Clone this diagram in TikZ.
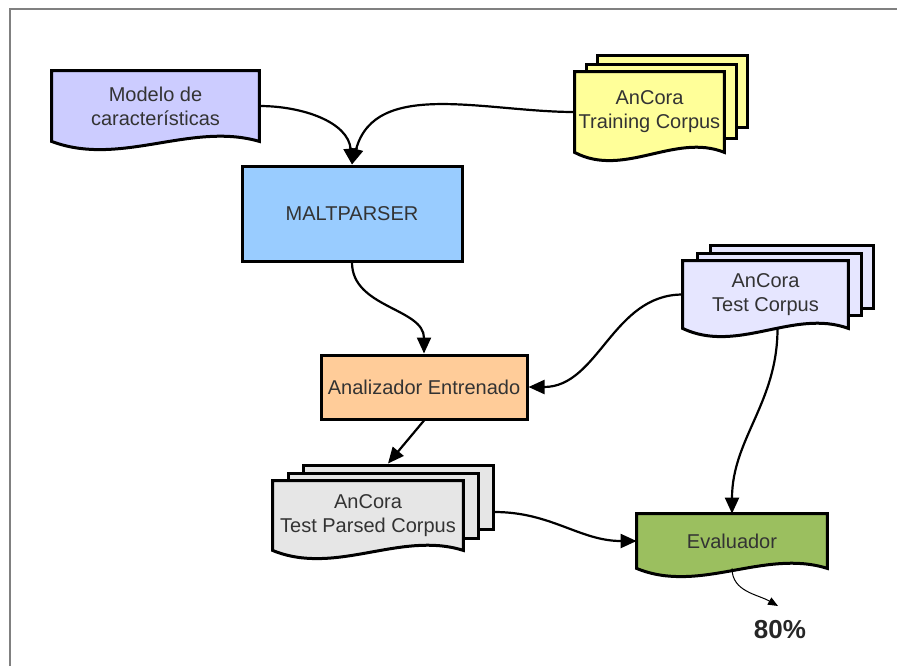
\documentclass[tikz,border=0pt]{standalone}
\usepackage{fontspec}
\setmainfont{Liberation Sans}
\usetikzlibrary{arrows.meta,backgrounds,calc}

\tikzset{
  size/.style 2 args={minimum width=#1*0.5pt, minimum height=#2*0.5pt},
  txt/.style={align=center, inner sep=0pt, text=black!80, font=\fontsize{10}{12}\selectfont},
  box/.style={txt, draw, line width=1.5pt},
  sheet/.style={draw, line width=1.5pt, inner sep=0pt},
  flow/.style={line width=1.1pt, -{Triangle[length=8pt,width=7pt]}},
  thinflow/.style={line width=0.5pt, -{Triangle[length=5pt,width=4pt]}},
}

% document shape with wavy bottom, drawn round a text node
\newcommand{\docshape}[2]{%
  \draw[sheet, fill=#2] (#1.north west) -- (#1.north east) -- (#1.south east)
    .. controls ($(#1.south east)!.33!(#1.south west)+(0,-20)$) and ($(#1.south east)!.67!(#1.south west)+(0,26)$) .. (#1.south west) -- cycle;}

\definecolor{modelfill}{HTML}{CCCCFF}
\definecolor{trainfill}{HTML}{FFFF99}
\definecolor{maltfill}{HTML}{99CCFF}
\definecolor{analizfill}{HTML}{FFCC99}
\definecolor{testfill}{HTML}{E6E6FF}
\definecolor{parsedfill}{HTML}{E6E6E6}
\definecolor{evalfill}{HTML}{9BBF5F}

\begin{document}
\begin{tikzpicture}[x=0.5pt,y=-0.5pt]
\useasboundingbox (0,0) rectangle (897,666);
\draw[gray, line width=1pt] (10,666) -- (10,9) -- (897,9);

% text nodes
\node[txt, size={207}{70}] (model) at (155.5,106) {Modelo de\\caracter\'isticas};
\node[txt, size={149}{80}] (train) at (649.5,112) {AnCora\\Training Corpus};
\node[box, fill=maltfill, size={220}{95}] (malt) at (352,213.5) {MALTPARSER};
\node[box, fill=analizfill, size={206}{64}] (analiz) at (424,387) {Analizador Entrenado};
\node[txt, size={165}{67}] (test) at (765.5,294.5) {AnCora\\Test Corpus};
\node[txt, size={190}{69}] (parsed) at (368,515.5) {AnCora\\Test Parsed Corpus};
\node[txt, size={190}{54}] (eval) at (732,541) {Evaluador};
\node[font=\fontsize{13}{15}\selectfont\bfseries, text=black!85] (pct) at (780,630) {80\%};
\coordinate (pctend) at (778,606);

% sheets behind the texts
\begin{scope}[on background layer]
\node[sheet, fill=trainfill, size={150}{72}] (trainB) at (672,91) {};
\node[sheet, fill=trainfill, size={150}{74}] (trainM) at (661,101) {};
\node[sheet, fill=testfill, size={163}{63}] (testB) at (791.5,276.5) {};
\node[sheet, fill=testfill, size={164}{62}] (testM) at (779,284) {};
\node[sheet, fill=parsedfill, size={190}{64}] (parsedB) at (398,497) {};
\node[sheet, fill=parsedfill, size={190}{65}] (parsedM) at (383,505.5) {};
\docshape{model}{modelfill}
\docshape{train}{trainfill}
\docshape{test}{testfill}
\docshape{parsed}{parsedfill}
\docshape{eval}{evalfill}
\end{scope}

% connectors
\draw[flow] (model.east) to[out=0,in=95] (malt.north);
\draw[flow] (train.west) to[out=180,in=75] (malt.north);
\draw[flow] (malt.south) to[out=-90,in=90] (analiz.north);
\draw[flow] (test.west) to[out=180,in=0] (analiz.east);
\draw[flow] (analiz.south) -- ([xshift=-5pt]parsedB.north);
\draw[flow] ([xshift=6pt]test.south) to[out=-90,in=90] (eval.north);
\draw[flow] ([yshift=-7.5pt]parsedB.east) to[out=0,in=180] (eval.west);
\draw[thinflow] (eval.south) to[out=-90,in=150] (pctend);
\end{tikzpicture}
\end{document}
